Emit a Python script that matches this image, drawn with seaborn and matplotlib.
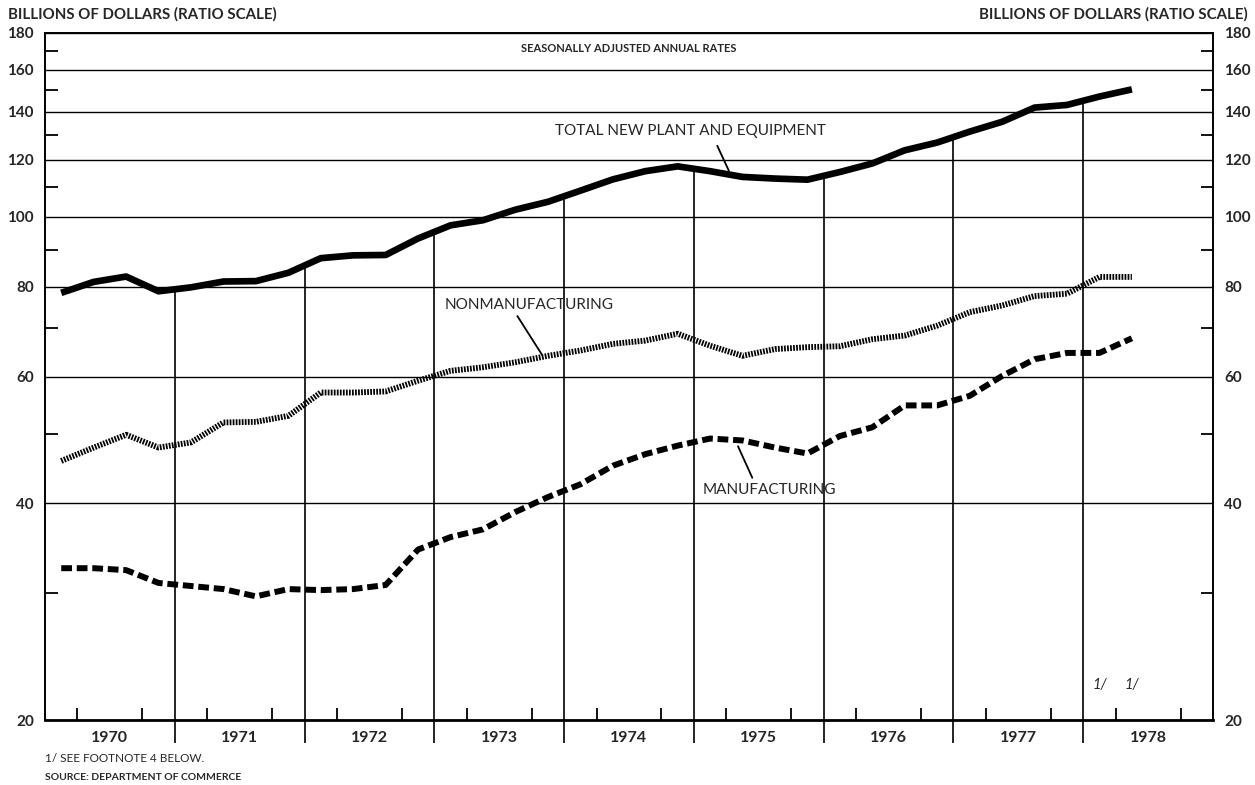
import numpy as np
import pandas as pd
import seaborn as sns
import matplotlib.pyplot as plt
import matplotlib.ticker as mticker

# Quarterly spending on new plant and equipment, billions of dollars (SAAR)
quarters = pd.period_range('1970Q1', '1978Q2', freq='Q')

total = [78.4, 81.2, 82.6, 78.8, 79.8, 81.3, 81.4, 83.6,
         87.6, 88.4, 88.5, 93.3, 97.3, 98.9, 102.3, 104.9,
         108.7, 112.7, 115.7, 117.5, 115.7, 113.6, 113.0, 112.6,
         115.4, 118.6, 123.7, 126.8, 131.3, 135.5, 141.8, 143.0,
         146.9, 150.3]
nonmanufacturing = [45.8, 47.8, 49.8, 47.8, 48.6, 51.8, 51.9, 52.9,
                    57.0, 57.0, 57.2, 59.2, 61.1, 61.8, 62.8, 64.1,
                    65.2, 66.6, 67.3, 68.8, 66.2, 64.1, 65.5, 65.9,
                    66.1, 67.6, 68.4, 70.6, 73.7, 75.3, 77.6, 78.2,
                    82.5, 82.5]
manufacturing = [32.5, 32.5, 32.3, 31.0, 30.7, 30.4, 29.7, 30.4,
                 30.3, 30.4, 30.8, 34.5, 35.9, 36.8, 38.9, 40.8,
                 42.5, 45.1, 46.8, 48.1, 49.2, 48.9, 47.8, 46.9,
                 49.6, 51.0, 54.7, 54.7, 56.4, 60.1, 63.4, 64.7,
                 64.7, 67.8]

years = list(range(1970, 1979))
y_labels = [20, 40, 60, 80, 100, 120, 140, 160, 180]
y_minor = [30, 50, 70, 90, 110, 130, 150, 170]

# each quarter is drawn at its middle
df = pd.DataFrame({
    'x': quarters.year + (quarters.quarter - 0.5) / 4,
    'total': total,
    'nonmanufacturing': nonmanufacturing,
    'manufacturing': manufacturing,
})

sns.set_theme(style='ticks')
plt.rcParams['font.family'] = ['Lato', 'DejaVu Sans']

fig = plt.figure(figsize=(12.55, 7.85), dpi=100)
ax = fig.add_axes([45 / 1255, 1 - 720 / 785, 1168 / 1255, 687 / 785])
ax.set_yscale('log')

sns.lineplot(data=df, x='x', y='total', ax=ax, color='black', lw=4.8,
             solid_capstyle='butt', zorder=4)
sns.lineplot(data=df, x='x', y='nonmanufacturing', ax=ax, color='black', lw=4.2,
             linestyle=(0, (0.3, 0.22)), dash_capstyle='butt', zorder=4)
sns.lineplot(data=df, x='x', y='manufacturing', ax=ax, color='black', lw=4.3,
             linestyle=(0, (1.8, 0.8)), dash_capstyle='butt', zorder=4)

ax.set_xlim(1970, 1979)
ax.set_ylim(20, 180)
ax.set_xlabel('')
ax.set_ylabel('')

# y axis: ratio scale, labels on both sides
ax.yaxis.set_major_locator(mticker.FixedLocator(y_labels))
ax.yaxis.set_major_formatter(mticker.FuncFormatter(lambda v, _: f'{v:.0f}'))
ax.yaxis.set_minor_locator(mticker.FixedLocator(y_minor))
ax.yaxis.set_minor_formatter(mticker.NullFormatter())
ax.yaxis.grid(True, which='major', color='black', lw=1.0)
ax.tick_params(axis='y', which='major', length=0, labelsize=11, pad=8,
               left=True, right=True, labelleft=True, labelright=True)
ax.tick_params(axis='y', which='minor', direction='in', length=9, width=1.3,
               left=True, right=True, color='black')
for lab in ax.get_yticklabels():
    lab.set_fontweight('bold')

# x axis: year labels centred, quarter ticks inside
ax.set_xticks([y + 0.5 for y in years])
ax.set_xticklabels([str(y) for y in years], fontsize=11.5, fontweight='bold')
ax.set_xticks([y + q / 4 for y in years for q in (1, 2, 3)], minor=True)
ax.tick_params(axis='x', which='major', length=0, pad=8)
ax.tick_params(axis='x', which='minor', direction='in', length=9, width=1.3,
               bottom=True, top=False, color='black')

# year dividers run from below the axis up to the total line
bounds = years[1:]
tops = np.interp(bounds, df['x'], df['total'])
ax.vlines(bounds, 18.6, tops, color='black', lw=1.2, clip_on=False, zorder=2)

for side in ['left', 'right', 'top', 'bottom']:
    ax.spines[side].set_color('black')
    ax.spines[side].set_linewidth(1.4)
ax.spines['bottom'].set_linewidth(2)

# series labels with leader lines
ax.text(1973.93, 131.5, 'TOTAL NEW PLANT AND EQUIPMENT', fontsize=11,
        ha='left', va='center')
ax.annotate('', xy=(1975.27, 115.8), xytext=(1975.18, 125.5),
            arrowprops=dict(arrowstyle='-', lw=1.3, color='black', shrinkA=0, shrinkB=0))
ax.text(1973.08, 75.5, 'NONMANUFACTURING', fontsize=11, ha='left', va='center')
ax.annotate('', xy=(1973.83, 64.3), xytext=(1973.64, 72.8),
            arrowprops=dict(arrowstyle='-', lw=1.3, color='black', shrinkA=0, shrinkB=0))
ax.text(1975.07, 41.8, 'MANUFACTURING', fontsize=11, ha='left', va='center')
ax.annotate('', xy=(1975.34, 48.0), xytext=(1975.45, 43.4),
            arrowprops=dict(arrowstyle='-', lw=1.3, color='black', shrinkA=0, shrinkB=0))

# footnote marks over the 1978 quarters
for xm in df['x'].iloc[-2:]:
    ax.text(xm, 22.4, '1/', fontsize=10.5, style='italic', ha='center', va='center')

ax.text(0.5, 0.985, 'SEASONALLY ADJUSTED ANNUAL RATES', transform=ax.transAxes,
        fontsize=8, fontweight='bold', ha='center', va='top')

fig.text(8 / 1255, 1 - 14 / 785, 'BILLIONS OF DOLLARS (RATIO SCALE)',
         fontsize=10.8, fontweight='bold', ha='left', va='center')
fig.text(1248 / 1255, 1 - 14 / 785, 'BILLIONS OF DOLLARS (RATIO SCALE)',
         fontsize=10.8, fontweight='bold', ha='right', va='center')
fig.text(45 / 1255, 1 - 758 / 785, '1/ SEE FOOTNOTE 4 BELOW.',
         fontsize=8.5, ha='left', va='center')
fig.text(45 / 1255, 1 - 778 / 785, 'SOURCE: DEPARTMENT OF COMMERCE',
         fontsize=7.5, fontweight='bold', ha='left', va='center')

fig.savefig('out.png', dpi=100)
